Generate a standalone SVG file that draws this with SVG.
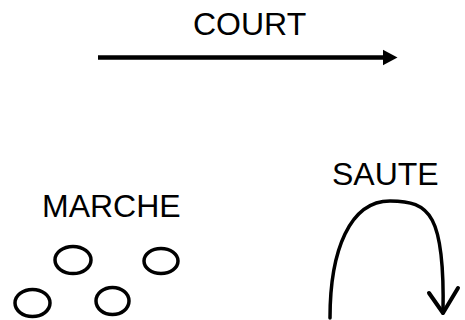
<svg xmlns="http://www.w3.org/2000/svg" width="465" height="320" viewBox="0 0 465 320">
  <style>
    .lbl { font-family: "Liberation Sans", Arial, sans-serif; font-size: 32px; fill: #000; }
    .ring { fill: none; stroke: #000; stroke-width: 3.5; }
    .stroke { fill: none; stroke: #000; stroke-linecap: round; stroke-linejoin: round; }
  </style>
  <rect width="465" height="320" fill="#fff"/>
  <g id="court">
    <text class="lbl" x="193" y="35">COURT</text>
  </g>
  <g id="marche">
    <text class="lbl" x="42" y="217">MARCHE</text>
    <ellipse class="ring" cx="73" cy="260" rx="18" ry="13.5"/>
    <ellipse class="ring" cx="161" cy="261" rx="17" ry="12.5"/>
    <ellipse class="ring" cx="32.5" cy="303" rx="17.5" ry="13.5"/>
    <ellipse class="ring" cx="112.5" cy="301" rx="16.5" ry="13.5"/>
  </g>
  <g id="saute">
    <text class="lbl" x="332" y="185">SAUTE</text>
  </g>
  <g id="connectors">
    <line x1="98" y1="57.5" x2="385" y2="57.5" stroke="#000" stroke-width="4.6"/>
    <polygon points="383,49.7 397.5,57.5 383,65.3" fill="#000"/>
    <path class="stroke" stroke-width="3.5" d="M330,318 C330,250 350,201 390,201 C430,201 445,215 443,313"/>
    <polyline class="stroke" stroke-width="4" points="429,293 443,313 458,288"/>
  </g>
</svg>
